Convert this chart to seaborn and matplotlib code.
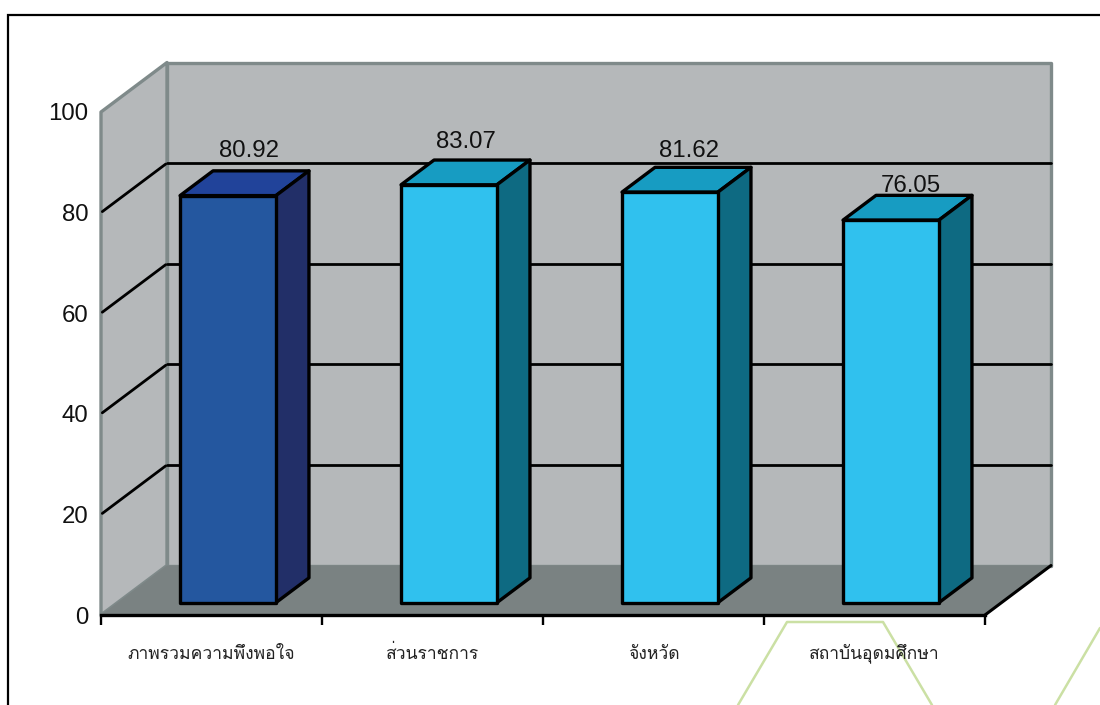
import matplotlib
matplotlib.use("Agg")
import matplotlib.pyplot as plt
from matplotlib.lines import Line2D
from matplotlib.patches import Polygon
import seaborn as sns

# Satisfaction scores per respondent group
categories = ["ภาพรวมความพึงพอใจ", "ส่วนราชการ", "จังหวัด", "สถาบันอุดมศึกษา"]
scores = [80.92, 83.07, 81.62, 76.05]
value_ticks = [0, 20, 40, 60, 80, 100]

# Shades for the three visible faces of each column
front_colors = ["#24579F", "#30C1EE", "#30C1EE", "#30C1EE"]
top_colors = ["#21439A", "#179CC2", "#179CC2", "#179CC2"]
side_colors = ["#222F68", "#0E6A82", "#0E6A82", "#0E6A82"]
label_lift = [20, 18, 16, 9]
label_shift = [-12, -16, -14, -13]

WALL = "#B5B8BA"
WALL_EDGE = "#7F8A8A"
FLOOR = "#7A8282"
ACCENT = "#CBE0A4"

W, H = 1100, 705
sns.set_theme(style="white")
plt.rcParams["font.family"] = ["Liberation Sans", "DejaVu Sans"]

fig = plt.figure(figsize=(W / 100, H / 100), dpi=100, facecolor="white")

# Outer frame and the pale outline running behind the lower labels
overlay = fig.add_axes([0, 0, 1, 1], zorder=0)
overlay.set_xlim(0, W)
overlay.set_ylim(H, 0)
overlay.axis("off")
overlay.plot([8, 8, W], [H, 15, 15], color="black", lw=1.6, solid_joinstyle="miter")
overlay.plot([738, 787, 883, 932], [705, 622, 622, 705], color=ACCENT, lw=1.8)
overlay.plot([1055, 1100], [705, 628], color=ACCENT, lw=1.8)

# Front plane of the plot box: x 101-985 px, y 615-112 px
ax = fig.add_axes([101 / W, 1 - 615 / H, 884 / W, 503 / H], zorder=1)
ax.patch.set_alpha(0)

sns.barplot(x=categories, y=scores, hue=categories, palette=front_colors,
            saturation=1, legend=False, width=0.434, edgecolor="black",
            linewidth=2.4, dodge=False, ax=ax, zorder=5)
ax.set_xlim(-0.5, 3.5)
ax.set_ylim(0, 100)

# One full depth step of the box, in data units
DX = 66 / 221
DY = 49.5 / 5.03


def at_depth(x, v, d):
    """Project a point on the value plane back by the fraction d of the box depth."""
    return (x + DX * d, v + DY * d)


x0, x1 = ax.get_xlim()

# Side wall, back wall and floor
left_wall = [at_depth(x0, 0, 0), at_depth(x0, 100, 0), at_depth(x0, 100, 1), at_depth(x0, 0, 1)]
back_wall = [at_depth(x0, 0, 1), at_depth(x0, 100, 1), at_depth(x1, 100, 1), at_depth(x1, 0, 1)]
floor = [at_depth(x0, 0, 0), at_depth(x1, 0, 0), at_depth(x1, 0, 1), at_depth(x0, 0, 1)]
for pts, face in [(back_wall, WALL), (left_wall, WALL)]:
    ax.add_patch(Polygon(pts, closed=True, facecolor=face, edgecolor=WALL_EDGE,
                         lw=2.4, clip_on=False, zorder=1, joinstyle="round"))
ax.add_patch(Polygon(floor, closed=True, facecolor=FLOOR, edgecolor="none",
                     clip_on=False, zorder=1.5))

# Grid lines bend from the side wall onto the back wall
for v in value_ticks[1:-1]:
    xs, ys = zip(at_depth(x0, v, 0.02), at_depth(x0, v, 0.98))
    ax.add_line(Line2D(xs, ys, color="black", lw=2, clip_on=False, zorder=2))
    xs, ys = zip(at_depth(x0, v, 1), at_depth(x1, v, 1))
    ax.add_line(Line2D(xs, ys, color="black", lw=2, clip_on=False, zorder=2))

# Right floor edge
xs, ys = zip(at_depth(x1, 0, 0), at_depth(x1, 0, 1))
ax.add_line(Line2D(xs, ys, color="black", lw=2.2, clip_on=False, zorder=3))

# Move each column to its place inside the box and add the top and side faces
bars = [p for c in ax.containers for p in c]
NEAR, FAR = 0.25, 0.75
for bar, top_c, side_c, score, lift, shift in zip(bars, top_colors, side_colors, scores,
                                                  label_lift, label_shift):
    bx, bw, value = bar.get_x(), bar.get_width(), bar.get_height()
    bar.set_x(bx + DX * NEAR)
    bar.set_y(DY * NEAR)
    bar.set_clip_on(False)
    bar.set_joinstyle("round")
    top = [at_depth(bx, value, NEAR), at_depth(bx + bw, value, NEAR),
           at_depth(bx + bw, value, FAR), at_depth(bx, value, FAR)]
    side = [at_depth(bx + bw, 0, NEAR), at_depth(bx + bw, value, NEAR),
            at_depth(bx + bw, value, FAR), at_depth(bx + bw, 0, FAR)]
    for pts, face in [(top, top_c), (side, side_c)]:
        ax.add_patch(Polygon(pts, closed=True, facecolor=face, edgecolor="black",
                             lw=2.4, clip_on=False, zorder=4, joinstyle="round"))
    anchor = at_depth(bx + bw / 2, value, FAR)
    ax.annotate(f"{score:.2f}", xy=anchor, xytext=(shift, lift), textcoords="offset pixels",
                ha="center", va="center", fontsize=17.3, color="#111111",
                annotation_clip=False, zorder=7)

# Axes furniture
sns.despine(ax=ax, left=True, top=True, right=True)
ax.spines["bottom"].set_color("black")
ax.spines["bottom"].set_linewidth(2.4)
ax.spines["bottom"].set_zorder(6)
ax.set_yticks(value_ticks)
ax.tick_params(axis="y", length=0, pad=9, labelsize=17.3, labelcolor="#111111")
ax.set_xticks(range(len(categories)))
ax.set_xticklabels(categories, family=["Loma", "DejaVu Sans"], fontsize=12.6,
                   color="#222222", va="baseline")
ax.tick_params(axis="x", which="major", length=0, pad=31.5)
ax.set_xticks([i - 0.5 for i in range(len(categories) + 1)], minor=True)
ax.tick_params(axis="x", which="minor", length=7.5, width=1.7, color="black", bottom=True)
ax.set_xlabel("")
ax.set_ylabel("")

fig.savefig("out.png", dpi=100, facecolor="white")
